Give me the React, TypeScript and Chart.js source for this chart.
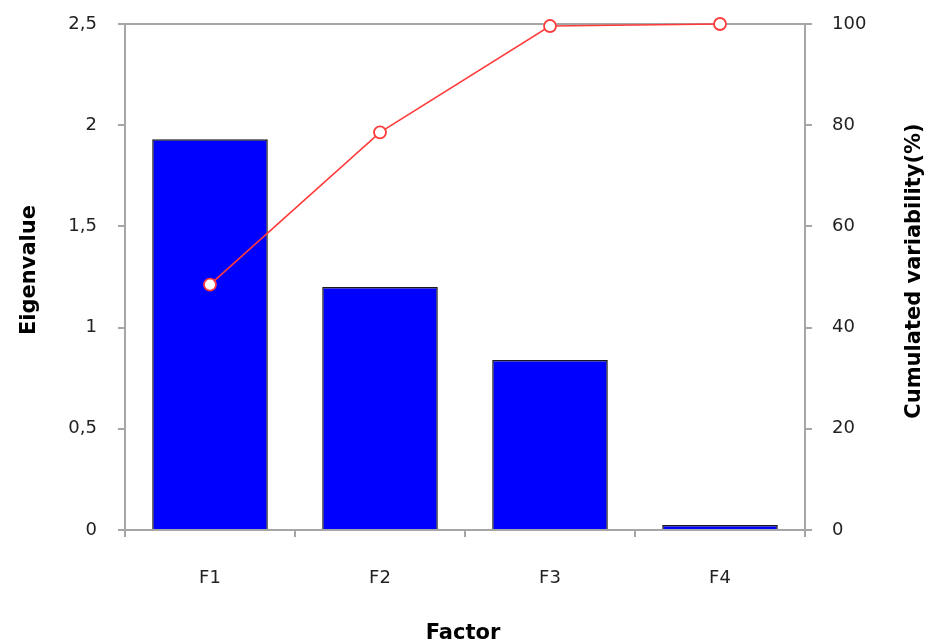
import React, { useEffect, useRef } from "react";
import { Chart, registerables } from "chart.js";

Chart.register(...registerables);

const factors = ["F1", "F2", "F3", "F4"];
const eigenvalues = [1.93, 1.2, 0.84, 0.025];
const cumulated = [48.5, 78.6, 99.6, 100];
const leftTitle = "Eigenvalue";
const rightTitle = "Cumulated variability(%)";
const bottomTitle = "Factor";

const GRAY = "#a6a6a6";
const TICK_FONT = { family: "'DejaVu Sans'", size: 18 };

const framePlugin = {
  id: "frame",
  afterDatasetDraw(chart: any, args: any) {
    if (args.index !== 0) return;
    const { ctx, chartArea: a } = chart;
    ctx.save();
    ctx.strokeStyle = GRAY;
    ctx.lineWidth = 2;
    ctx.strokeRect(a.left, a.top, a.right - a.left, a.bottom - a.top);
    ctx.restore();
  },
  afterDraw(chart: any) {
    const { ctx } = chart;
    ctx.save();
    ctx.fillStyle = "#000";
    ctx.font = "bold 21px 'DejaVu Sans'";
    ctx.textAlign = "center";
    ctx.textBaseline = "alphabetic";
    ctx.save();
    ctx.translate(35, 270);
    ctx.rotate(-Math.PI / 2);
    ctx.fillText(leftTitle, 0, 0);
    ctx.restore();
    ctx.save();
    ctx.translate(920, 271);
    ctx.rotate(-Math.PI / 2);
    ctx.fillText(rightTitle, 0, 0);
    ctx.restore();
    ctx.fillText(bottomTitle, 463, 639);
    ctx.restore();
  },
};

const fitY = (s: any) => {
  s.width = 125;
  s.paddingTop = 0;
  s.paddingBottom = 0;
};

export default function App() {
  const ref = useRef<HTMLCanvasElement | null>(null);
  useEffect(() => {
    if (!ref.current) return;
    const chart = new Chart(ref.current, {
      type: "bar",
      data: {
        labels: factors,
        datasets: [
          {
            type: "bar",
            data: eigenvalues,
            yAxisID: "y",
            backgroundColor: "#0000ff",
            borderColor: "#1a1a1a",
            borderWidth: 1.5,
            categoryPercentage: 0.68,
            barPercentage: 1,
            order: 2,
          },
          {
            type: "line",
            data: cumulated,
            yAxisID: "y2",
            borderColor: "#ff3b3b",
            borderWidth: 1.6,
            pointRadius: 6,
            pointBorderWidth: 1.8,
            pointBackgroundColor: "#ffffff",
            pointBorderColor: "#ff3b3b",
            clip: false as any,
            order: 1,
          } as any,
        ],
      },
      options: {
        animation: false,
        responsive: true,
        maintainAspectRatio: false,
        layout: { padding: { top: 24, left: 0, right: 0, bottom: 0 } },
        plugins: { legend: { display: false }, tooltip: { enabled: false } },
        scales: {
          x: {
            offset: true,
            grid: {
              display: true,
              offset: true,
              drawOnChartArea: false,
              drawTicks: true,
              tickLength: 7,
              color: GRAY,
              lineWidth: 2,
            },
            border: { display: false },
            ticks: { font: TICK_FONT, color: "#222", padding: 31 },
            afterFit(s: any) {
              s.height = 112;
              s.paddingLeft = 0;
              s.paddingRight = 0;
            },
          },
          y: {
            position: "left",
            min: 0,
            max: 2.5,
            grid: {
              drawOnChartArea: false,
              drawTicks: true,
              tickLength: 7,
              color: GRAY,
              lineWidth: 2,
            },
            border: { display: false },
            ticks: {
              stepSize: 0.5,
              font: TICK_FONT,
              color: "#222",
              padding: 21,
              callback: (v: any) => String(v).replace(".", ","),
            },
            afterFit: fitY,
          },
          y2: {
            position: "right",
            min: 0,
            max: 100,
            grid: {
              drawOnChartArea: false,
              drawTicks: true,
              tickLength: 7,
              color: GRAY,
              lineWidth: 2,
            },
            border: { display: false },
            ticks: { stepSize: 20, font: TICK_FONT, color: "#222", padding: 20 },
            afterFit: fitY,
          },
        },
      },
      plugins: [framePlugin],
    });
    return () => chart.destroy();
  }, []);
  return (
    <div style={{ position: "absolute", left: 0, top: 0, width: 930, height: 642, background: "#fff" }}>
      <canvas ref={ref} />
    </div>
  );
}
